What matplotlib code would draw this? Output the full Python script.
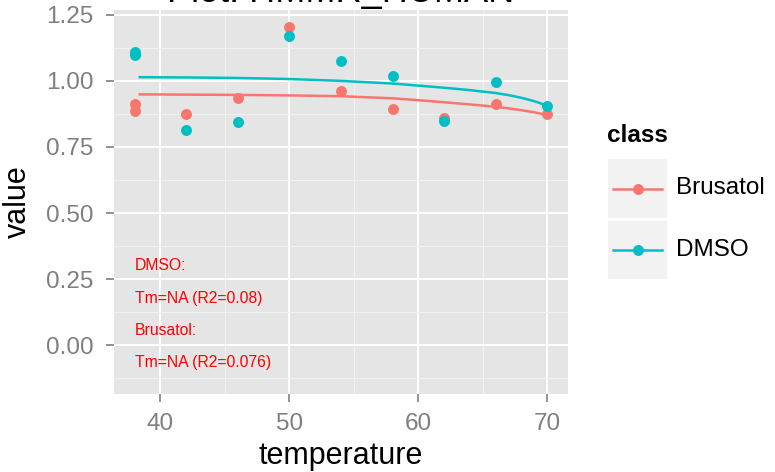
import matplotlib
matplotlib.use("Agg")
import matplotlib.pyplot as plt
from matplotlib.patches import Rectangle
from matplotlib.ticker import MultipleLocator

plt.rcParams['font.family'] = ['Liberation Sans', 'DejaVu Sans']

# data
temps = [38, 38, 42, 46, 50, 54, 58, 62, 66, 70]
brusatol = [0.911, 0.886, 0.873, 0.936, 1.204, 0.961, 0.892, 0.860, 0.911, 0.873]
dmso = [1.111, 1.099, 0.816, 0.846, 1.171, 1.076, 1.019, 0.848, 0.997, 0.905]

# fitted curves
fit_t = [38.4, 42, 46, 50, 54, 58, 60, 62, 64, 66, 67, 68, 69, 70]
fit_brusatol = [0.949, 0.948, 0.947, 0.945, 0.942, 0.934, 0.927, 0.919, 0.911, 0.902,
                0.896, 0.889, 0.881, 0.871]
fit_dmso = [1.014, 1.013, 1.011, 1.007, 1.000, 0.990, 0.982, 0.974, 0.965, 0.954,
            0.946, 0.936, 0.923, 0.906]

notes = ["DMSO:", "Tm=NA (R2=0.08)", "Brusatol:", "Tm=NA (R2=0.076)"]
note_y = [0.30, 0.178, 0.056, -0.066]

RED = '#F8766D'
CYAN = '#00BFC4'
GREY = '#7F7F7F'

fig = plt.figure(figsize=(7.75, 4.72), dpi=100)
ax = fig.add_axes([114 / 775, 1 - 394 / 472, (568 - 114) / 775, (394 - 10) / 472])
ax.set_facecolor('#E5E5E5')
for s in ax.spines.values():
    s.set_visible(False)

ax.set_xlim(36.4, 71.6)
ax.set_ylim(-0.184, 1.268)
ax.xaxis.set_major_locator(MultipleLocator(10))
ax.xaxis.set_minor_locator(MultipleLocator(5))
ax.yaxis.set_major_locator(MultipleLocator(0.25))
ax.yaxis.set_minor_locator(MultipleLocator(0.125))
ax.grid(which='major', color='white', lw=1.4)
ax.grid(which='minor', color='#F2F2F2', lw=0.7)
ax.set_axisbelow(True)
ax.tick_params(which='minor', length=0)
ax.tick_params(which='major', length=6, width=1.2, color=GREY, labelcolor=GREY, labelsize=17.5)
ax.tick_params(axis='x', pad=8)
ax.tick_params(axis='y', pad=9)
ax.yaxis.set_major_formatter(matplotlib.ticker.FormatStrFormatter('%.2f'))

ax.scatter(temps, brusatol, s=62, color=RED, zorder=3, lw=0)
ax.scatter(temps, dmso, s=62, color=CYAN, zorder=3, lw=0)
ax.plot(fit_t, fit_brusatol, color=RED, lw=1.8, zorder=4)
ax.plot(fit_t, fit_dmso, color=CYAN, lw=1.8, zorder=4)

for txt, y in zip(notes, note_y):
    ax.text(38, y, txt, color='red', fontsize=11.3, ha='left', va='center')

ax.set_xlabel('temperature', fontsize=22, labelpad=4)
ax.set_ylabel('value', fontsize=22, labelpad=9)

fig.text(341 / 775, 1 - 2 / 472, 'Plot: HMMR_HUMAN', fontsize=26, ha='center', va='baseline')

# legend drawn in pixel coordinates
lg = fig.add_axes([0, 0, 1, 1], facecolor='none')
lg.set_xlim(0, 775)
lg.set_ylim(472, 0)
lg.axis('off')
lg.text(607, 135, 'class', fontsize=17.5, fontweight='bold', ha='left', va='center')
for (y0, y1), col, lab in [((159, 218), RED, 'Brusatol'), ((221, 279), CYAN, 'DMSO')]:
    lg.add_patch(Rectangle((608, y0), 59, y1 - y0, color='#F2F2F2', lw=0))
    yc = (y0 + y1) / 2
    lg.plot([613, 662], [yc, yc], color=col, lw=1.8)
    lg.scatter([637.5], [yc], s=62, color=col, lw=0, zorder=3)
    lg.text(676, yc, lab, fontsize=17.5, ha='left', va='center')

fig.savefig('out.png', dpi=100)
